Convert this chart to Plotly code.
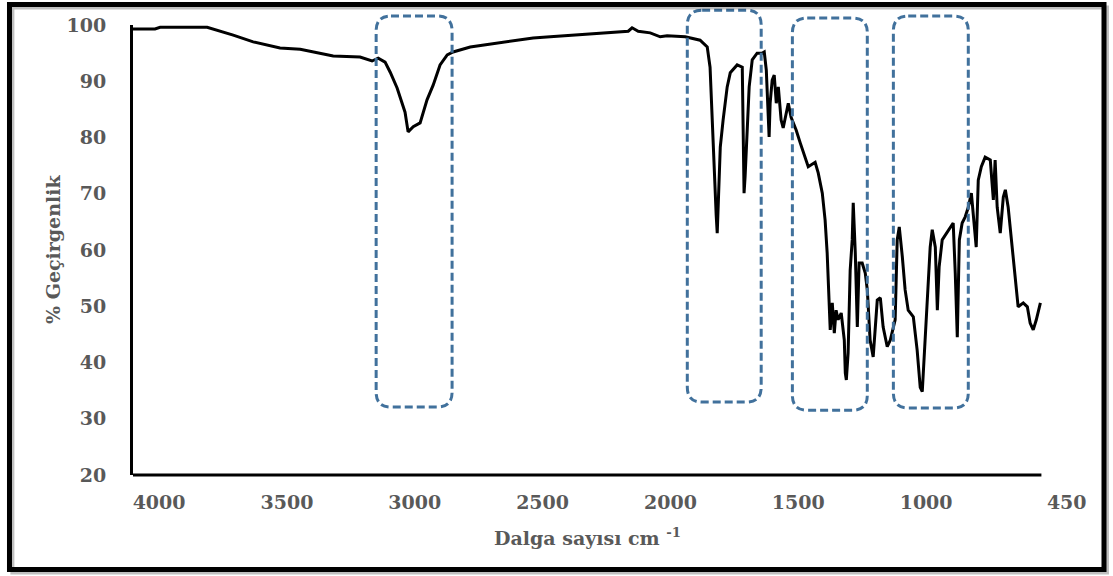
import plotly.graph_objects as go

# Wavenumber (cm-1) and % transmittance
wavenumber = [4102, 4016, 3996, 3812, 3710, 3632, 3527, 3448, 3319, 3214, 3167, 3143, 3116, 3096,
              3069, 3038, 3026, 3006, 2979, 2952, 2928, 2901, 2873, 2850, 2783, 2666, 2537, 2470,
              2275, 2165, 2150, 2126, 2079, 2040, 2013, 1942, 1884, 1856, 1845, 1837, 1829, 1825,
              1821, 1817, 1809, 1805, 1794, 1778, 1766, 1739, 1719, 1715, 1712, 1708, 1700, 1692,
              1680, 1661, 1641, 1633, 1625, 1618, 1614, 1610, 1602, 1594, 1586, 1578, 1567, 1559,
              1547, 1539, 1528, 1508, 1492, 1473, 1461, 1434, 1422, 1406, 1395, 1387, 1379, 1375,
              1367, 1359, 1352, 1344, 1332, 1320, 1316, 1312, 1305, 1297, 1289, 1285, 1277, 1269,
              1262, 1250, 1238, 1230, 1219, 1207, 1191, 1179, 1168, 1152, 1140, 1129, 1121, 1113,
              1105, 1093, 1082, 1070, 1050, 1035, 1023, 1015, 1003, 992, 984, 976, 964, 956, 949,
              937, 921, 906, 894, 886, 878, 870, 859, 847, 835, 823, 812, 804, 796, 784, 769, 749,
              737, 730, 722, 710, 698, 690, 679, 663, 651, 640, 620, 604, 593, 581, 569, 553]
transmittance = [99.3, 99.3, 99.6, 99.6, 98.2, 97.0, 95.9, 95.7, 94.5, 94.3, 93.6, 94.1, 93.4, 91.6,
                 88.8, 84.5, 81.0, 81.9, 82.6, 86.7, 89.3, 92.9, 94.7, 95.2, 96.1, 96.8, 97.7, 97.9,
                 98.6, 98.9, 99.5, 98.9, 98.6, 97.9, 98.1, 97.9, 97.3, 96.1, 92.5, 83.6, 72.4, 70.1,
                 66.2, 63.0, 71.2, 78.3, 83.1, 89.0, 91.5, 92.9, 92.5, 77.2, 70.1, 73.0, 80.1, 89.0,
                 93.8, 95.0, 95.0, 95.2, 92.0, 85.4, 80.1, 86.1, 90.2, 91.1, 86.1, 89.0, 83.1, 81.7,
                 84.4, 86.1, 83.6, 81.3, 79.0, 76.5, 74.8, 75.6, 73.7, 70.1, 65.3, 59.5, 50.6, 45.8,
                 50.6, 45.2, 49.3, 47.6, 48.8, 44.0, 38.1, 36.9, 41.7, 56.4, 61.8, 68.4, 59.5, 46.3,
                 57.7, 57.7, 55.9, 52.9, 44.0, 41.0, 51.1, 51.5, 46.3, 42.8, 44.0, 46.3, 47.6, 61.8,
                 64.1, 58.8, 52.9, 49.3, 48.1, 42.2, 35.6, 34.8, 44.0, 54.1, 60.5, 63.6, 60.5, 49.3, 57.0,
                 61.8, 63.0, 64.1, 64.8, 55.9, 44.5, 61.8, 64.8, 65.9, 67.6, 70.1, 64.8, 60.5, 72.4, 74.8, 76.5, 76.0,
                 68.9, 76.0, 67.6, 63.0, 69.4, 70.7, 67.6, 60.5, 54.7, 49.9, 50.6, 49.9, 47.0, 45.8, 47.6, 50.6]

x_ticks = [4000, 3500, 3000, 2500, 2000, 1500, 1000, 450]
x_ticktext = ["4000", "3500", "3000", "2500", "2000", "1500", "1000", "450"]
y_ticks = [20, 30, 40, 50, 60, 70, 80, 90, 100]

# Highlighted regions (wavenumber from, to)
regions = [(3151, 2854), (1934, 1645), (1523, 1230), (1128, 835)]
region_y = [(0.151, 1.02), (0.162, 1.033), (0.144, 1.0156), (0.149, 1.02)]

FONT = "DejaVu Serif"
GREY = "#595959"
BLUE = "#41719C"

fig = go.Figure()
fig.add_trace(go.Scatter(x=wavenumber, y=transmittance, mode="lines",
                         line=dict(color="black", width=3), showlegend=False))

shapes = []
rx, ry = 58, 0.033
for (xa, xb), (ya, yb) in zip(regions, region_y):
    # xa > xb (reversed axis: xa is on the left)
    path = (f"M {xa - rx},{yb} L {xb + rx},{yb} Q {xb},{yb} {xb},{yb - ry} "
            f"L {xb},{ya + ry} Q {xb},{ya} {xb + rx},{ya} L {xa - rx},{ya} "
            f"Q {xa},{ya} {xa},{ya + ry} L {xa},{yb - ry} Q {xa},{yb} {xa - rx},{yb} Z")
    shapes.append(dict(type="path", path=path, xref="x", yref="paper",
                       line=dict(color=BLUE, width=3, dash="8px,4px"),
                       fillcolor="rgba(0,0,0,0)"))

# x axis baseline (ends at the last data point)
shapes.append(dict(type="line", xref="x", yref="paper", x0=4102, x1=549, y0=0, y1=0,
                   line=dict(color="black", width=3)))
# outer frame with shadow
shapes.append(dict(type="rect", xref="paper", yref="paper",
                   x0=-0.1290, x1=1.0417, y0=-0.2167, y1=1.0389,
                   line=dict(color="rgba(0,0,0,0.25)", width=4)))
shapes.append(dict(type="rect", xref="paper", yref="paper",
                   x0=-0.1321, x1=1.0385, y0=-0.21, y1=1.0456,
                   line=dict(color="black", width=5)))

fig.update_layout(
    width=1113, height=576,
    margin=dict(l=133, r=45, t=25, b=101),
    paper_bgcolor="white", plot_bgcolor="white",
    shapes=shapes,
    xaxis=dict(range=[4102, 445], tickvals=x_ticks, ticktext=x_ticktext,
               showline=False, showgrid=False, zeroline=False, ticks="",
               ticklabelstandoff=14,
               tickfont=dict(family=FONT, size=19, color=GREY, weight="bold")),
    yaxis=dict(range=[20, 100], tickvals=y_ticks, showline=True, linecolor="black",
               linewidth=3, showgrid=False, zeroline=False, ticks="",
               ticklabelstandoff=20,
               tickfont=dict(family=FONT, size=19, color=GREY, weight="bold")),
    annotations=[
        dict(text="Dalga sayısı cm <sup>-1</sup>", xref="paper", yref="paper",
             x=(587 - 133) / 935, y=(475 - 537) / 450, xanchor="center", yanchor="middle",
             showarrow=False, font=dict(family=FONT, size=19, color=GREY, weight="bold")),
        dict(text="% Geçirgenlik", xref="paper", yref="paper", textangle=-90,
             x=(53 - 133) / 935, y=(475 - 250) / 450, xanchor="center", yanchor="middle",
             showarrow=False, font=dict(family=FONT, size=19, color=GREY, weight="bold")),
    ],
)

fig.write_html("out.html")
